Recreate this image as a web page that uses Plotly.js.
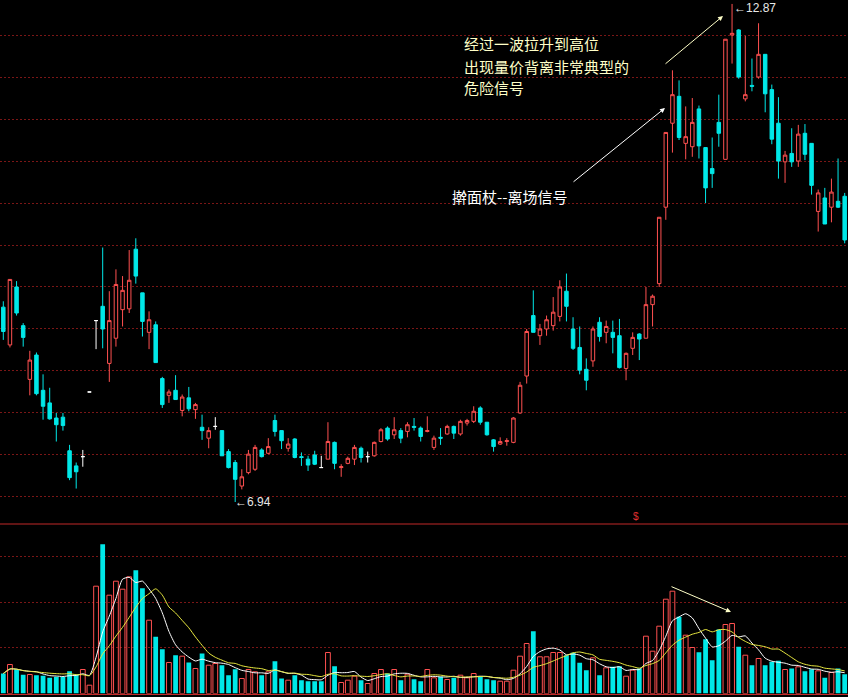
<!DOCTYPE html>
<html><head><meta charset="utf-8">
<script src="https://cdn.plot.ly/plotly-3.0.1.min.js"></script>
<style>html,body{margin:0;padding:0;background:#000;}#chart{width:848px;height:697px;}</style>
</head><body><div id="chart"></div>
<script>
// ---- data ----
const openP = [9.26,8.81,9.50,9.04,8.40,8.69,8.27,8.12,7.94,7.95,7.55,7.37,7.48,8.25,9.10,9.27,8.59,8.89,9.23,9.24,
9.95,9.43,8.96,9.05,8.41,8.21,8.27,8.03,8.18,8.04,7.83,7.70,7.84,7.79,7.54,7.41,7.13,7.29,7.33,7.56,
7.52,7.91,7.79,7.58,7.69,7.48,7.45,7.50,7.35,7.45,7.65,7.35,7.40,7.45,7.58,7.48,7.49,7.66,7.82,7.74,
7.79,7.78,7.84,7.82,7.78,7.59,7.71,7.75,7.84,7.75,7.88,7.90,8.06,7.89,7.68,7.63,7.66,7.65,8.00,8.44,
9.16,8.92,9.00,9.04,9.15,9.45,9.00,8.78,8.52,8.62,9.08,8.96,8.96,8.92,8.53,8.77,8.94,8.89,9.29,9.54,
10.45,11.45,11.77,11.21,11.17,11.62,11.16,10.91,11.46,11.02,12.50,12.56,11.74,11.90,12.00,12.27,11.85,11.45,10.99,11.09,
11.00,11.33,11.21,10.40,10.56,10.45,10.52,10.58];
const highP = [9.33,9.59,9.57,9.07,8.74,8.72,8.46,8.30,8.00,8.00,7.62,7.41,7.56,8.25,9.10,9.97,9.45,9.71,9.63,9.94,
10.08,9.43,9.21,9.09,8.43,8.28,8.45,8.22,8.31,8.12,7.98,7.83,7.95,7.79,7.57,7.44,7.33,7.56,7.62,7.58,
7.70,7.98,7.79,7.70,7.70,7.53,7.49,7.55,7.49,7.89,7.66,7.39,7.48,7.62,7.60,7.54,7.66,7.82,7.84,7.95,
7.82,7.89,7.94,7.84,7.96,7.73,7.82,7.86,7.85,7.92,7.93,8.08,8.08,7.89,7.69,7.71,7.70,7.95,8.37,9.00,
9.46,9.06,9.16,9.38,9.58,9.66,9.14,9.03,8.65,9.03,9.14,9.10,9.10,9.12,8.72,8.96,8.95,9.50,9.41,10.33,
11.34,12.08,11.96,11.65,11.75,11.66,11.16,11.28,11.79,12.45,12.87,12.57,12.49,12.22,12.64,12.27,11.91,11.76,11.12,11.39,
11.43,11.44,11.21,10.66,10.68,10.79,11.03,10.62];
const lowP = [8.87,8.78,9.16,8.79,8.21,8.21,7.92,7.92,7.66,7.79,7.20,7.10,7.36,8.25,8.76,8.77,8.37,8.79,9.03,9.19,
9.54,8.91,8.76,8.60,8.06,8.12,8.16,7.96,8.02,7.93,7.68,7.58,7.80,7.49,7.34,6.94,7.09,7.27,7.31,7.47,
7.51,7.72,7.57,7.54,7.46,7.37,7.31,7.38,7.35,7.45,7.33,7.24,7.39,7.38,7.41,7.41,7.48,7.65,7.67,7.69,
7.64,7.71,7.79,7.66,7.77,7.56,7.62,7.74,7.69,7.73,7.85,7.88,7.86,7.73,7.54,7.62,7.61,7.64,7.99,8.35,
8.96,8.81,8.92,8.98,9.09,9.09,8.75,8.46,8.27,8.55,8.85,8.83,8.71,8.53,8.39,8.69,8.63,8.89,9.03,9.50,
10.30,11.10,11.25,11.02,11.05,11.03,10.50,10.68,11.17,11.02,12.16,11.98,11.71,11.83,11.98,11.58,11.20,10.79,10.74,10.93,
10.93,11.01,10.60,10.16,10.25,10.27,10.44,10.02];
const closeP = [8.97,9.59,9.19,8.90,8.63,8.23,8.08,7.93,7.86,7.85,7.23,7.30,7.48,8.25,9.10,9.00,9.10,9.53,9.46,9.58,
9.63,9.09,9.11,8.60,8.10,8.25,8.16,8.19,8.05,8.10,7.79,7.79,7.84,7.49,7.35,7.21,7.24,7.51,7.59,7.48,
7.60,7.78,7.67,7.63,7.47,7.47,7.38,7.39,7.35,7.66,7.40,7.36,7.46,7.59,7.47,7.48,7.65,7.80,7.69,7.80,
7.70,7.86,7.83,7.72,7.79,7.70,7.70,7.84,7.76,7.90,7.91,8.02,7.89,7.74,7.60,7.66,7.67,7.94,8.33,8.97,
8.96,9.00,9.11,9.20,9.50,9.27,8.77,8.51,8.39,9.00,8.91,9.03,8.90,8.54,8.71,8.90,8.88,9.29,9.39,10.33,
11.34,11.79,11.28,11.29,11.46,11.18,10.68,10.85,11.33,12.45,12.52,12.00,11.79,11.89,12.27,11.80,11.26,11.00,11.07,10.99,
11.32,11.08,10.71,10.62,10.25,10.63,10.45,10.06];
const volume = [20,29,24,18.7,19,18.3,17.7,15.7,16.7,16.7,22.3,19,24,8.3,107.3,149.3,98.3,112.3,104.3,116.7,
123.3,105.3,73.3,56.7,44.3,31,38.3,37.3,31,25,40,28.3,30,28.3,18.3,24.3,15,24,21.7,18.3,
21.7,32.3,15,13.3,18.3,13.3,12.3,12.3,12.3,41,27.3,11,13.3,17.3,13.3,10,20,24,20,24,
13.3,19.3,14.3,12.3,24,15.7,16.7,14,15.7,18.3,15.7,20,16.7,14.3,13.3,12.3,12.3,23.3,37.3,50,
62.3,36.7,36.7,41,41,38.3,40.7,30.7,23.3,35.7,18.3,25.7,26.7,27.3,17.3,23.3,25,57.3,42.3,67.3,
94.3,102.3,76.7,58.3,46,41.3,54.3,33.3,64,69,70,46.7,38.3,28.3,35,28.3,31.7,32.7,24,25,
26.7,22.3,24.3,22.7,15.7,21,25,19.3];
const whiteDoji = [12,13,14,32,48,55];
const noteLines = ['经过一波拉升到高位','出现量价背离非常典型的','危险信号'];
const exitNote = '擀面杖--离场信号';

// ---- styles ----
const RED = '#FF5050', CYAN = '#00E8E8', GRID = '#7a1616';
const W = 848, H = 697;
const px = x => x / W, py = y => 1 - y / H;

const n = closeP.length;
const idx = [...Array(n).keys()];
const isWhite = new Set(whiteDoji);
const mainIdx = idx.filter(i => !isWhite.has(i));
const pick = (arr, ids) => ids.map(i => arr[i]);

// volume direction (ties resolved by previous close)
const up = idx.map(i => {
  if (closeP[i] !== openP[i]) return closeP[i] > openP[i];
  return i > 0 ? closeP[i] >= closeP[i - 1] : true;
});
const upIdx = idx.filter(i => up[i]), dnIdx = idx.filter(i => !up[i]);
const ma = k => idx.map(i => { const s = volume.slice(Math.max(0, i - k + 1), i + 1); return s.reduce((a, b) => a + b, 0) / s.length; });

const traces = [
  {type:'candlestick', x: mainIdx, open: pick(openP, mainIdx), high: pick(highP, mainIdx), low: pick(lowP, mainIdx), close: pick(closeP, mainIdx),
   increasing:{line:{color:RED,width:1}, fillcolor:'#000000'}, decreasing:{line:{color:CYAN,width:1}, fillcolor:CYAN},
   whiskerwidth:0, hoverinfo:'skip', xaxis:'x', yaxis:'y'},
  {type:'candlestick', x: whiteDoji, open: pick(openP, whiteDoji), high: pick(highP, whiteDoji), low: pick(lowP, whiteDoji), close: pick(closeP, whiteDoji),
   increasing:{line:{color:'#FFFFFF',width:1}, fillcolor:'#FFFFFF'}, decreasing:{line:{color:'#FFFFFF',width:1}, fillcolor:'#FFFFFF'},
   whiskerwidth:0, hoverinfo:'skip', xaxis:'x', yaxis:'y'},
  {type:'bar', x: upIdx, y: pick(volume, upIdx), width:0.72, marker:{color:'rgba(0,0,0,0)', line:{color:RED,width:1}}, hoverinfo:'skip', xaxis:'x', yaxis:'y2'},
  {type:'bar', x: dnIdx, y: pick(volume, dnIdx), width:0.72, marker:{color:CYAN, line:{width:0}}, hoverinfo:'skip', xaxis:'x', yaxis:'y2'},
  {type:'scatter', mode:'lines', x: idx, y: ma(5), line:{color:'#FFFFFF', width:1, shape:'spline', smoothing:0.6}, hoverinfo:'skip', xaxis:'x', yaxis:'y2'},
  {type:'scatter', mode:'lines', x: idx, y: ma(10), line:{color:'#E8E840', width:1, shape:'spline', smoothing:0.6}, hoverinfo:'skip', xaxis:'x', yaxis:'y2'}
];

let hiI = 0, loI = 0;
idx.forEach(i => { if (highP[i] > highP[hiI]) hiI = i; if (lowP[i] < lowP[loI]) loI = i; });

const cjk = '"Noto Sans CJK SC", sans-serif';
const num = '"Liberation Sans", Arial, sans-serif';
const annotations = [
  ...noteLines.map((t, k) => ({xref:'paper', yref:'paper', x:px(463), y:py(44 + 22 * k), text:t, showarrow:false,
     xanchor:'left', yanchor:'middle', borderpad:0, font:{family:cjk, size:15, color:'#FFFFC8'}})),
  {xref:'paper', yref:'paper', x:px(450), y:py(196.5), text:exitNote, showarrow:false, xanchor:'left', yanchor:'middle',
   font:{family:cjk, size:15, color:'#FFFFFF'}},
  {xref:'paper', yref:'paper', x:px(665), y:py(108), ax:-93, ay:75, text:'', showarrow:true, arrowhead:2, arrowsize:1, arrowwidth:1, arrowcolor:'#FFFFFF'},
  {xref:'paper', yref:'paper', x:px(723), y:py(16), ax:-59, ay:49, text:'', showarrow:true, arrowhead:2, arrowsize:1, arrowwidth:1, arrowcolor:'#FFFFC8'},
  {xref:'paper', yref:'paper', x:px(731), y:py(612), ax:-61, ay:-26, text:'', showarrow:true, arrowhead:2, arrowsize:1, arrowwidth:1, arrowcolor:'#FFFFC8'},
  {xref:'x', yref:'y', x:hiI, y:highP[hiI], text:'←' + highP[hiI].toFixed(2), showarrow:false, xanchor:'left', yanchor:'middle',
   xshift:0, yshift:-4, font:{family:num, size:12, color:'#E8E8E8'}},
  {xref:'x', yref:'y', x:loI, y:lowP[loI], text:'←' + lowP[loI].toFixed(2), showarrow:false, xanchor:'left', yanchor:'middle',
   xshift:-2, yshift:0, font:{family:num, size:12, color:'#E8E8E8'}},
  {xref:'paper', yref:'paper', x:px(636), y:py(516), text:'$', showarrow:false, xanchor:'center', yanchor:'middle',
   font:{family:num, size:10, color:'#E03030'}}
];

const layout = {
  width:W, height:H, margin:{l:0, r:0, t:0, b:0}, paper_bgcolor:'#000', plot_bgcolor:'#000',
  showlegend:false, boxgap:0.25, hovermode:false,
  xaxis:{range:[-0.5, n - 0.5], rangeslider:{visible:false}, showgrid:false, zeroline:false, showline:false, showticklabels:false, ticks:'', fixedrange:true},
  yaxis:{domain:[py(523), 1], range:[6.690, 12.917], tick0:7, dtick:0.5, showgrid:true, gridcolor:GRID, griddash:'2px,2px', gridwidth:1,
         zeroline:false, showline:false, showticklabels:false, ticks:'', fixedrange:true},
  yaxis2:{domain:[py(693.5), py(525)], range:[0, 168.5], tick0:0, dtick:45.7, showgrid:true, gridcolor:GRID, griddash:'2px,2px', gridwidth:1,
         zeroline:false, showline:false, showticklabels:false, ticks:'', fixedrange:true},
  shapes:[
    {type:'line', xref:'paper', yref:'paper', x0:0, x1:1, y0:py(524), y1:py(524), line:{color:'#C02828', width:1}},
    {type:'line', xref:'paper', yref:'paper', x0:0, x1:1, y0:py(694.5), y1:py(694.5), line:{color:'#C02828', width:1}}
  ],
  annotations
};
Plotly.newPlot('chart', traces, layout, {staticPlot:true, displayModeBar:false});
</script></body></html>
